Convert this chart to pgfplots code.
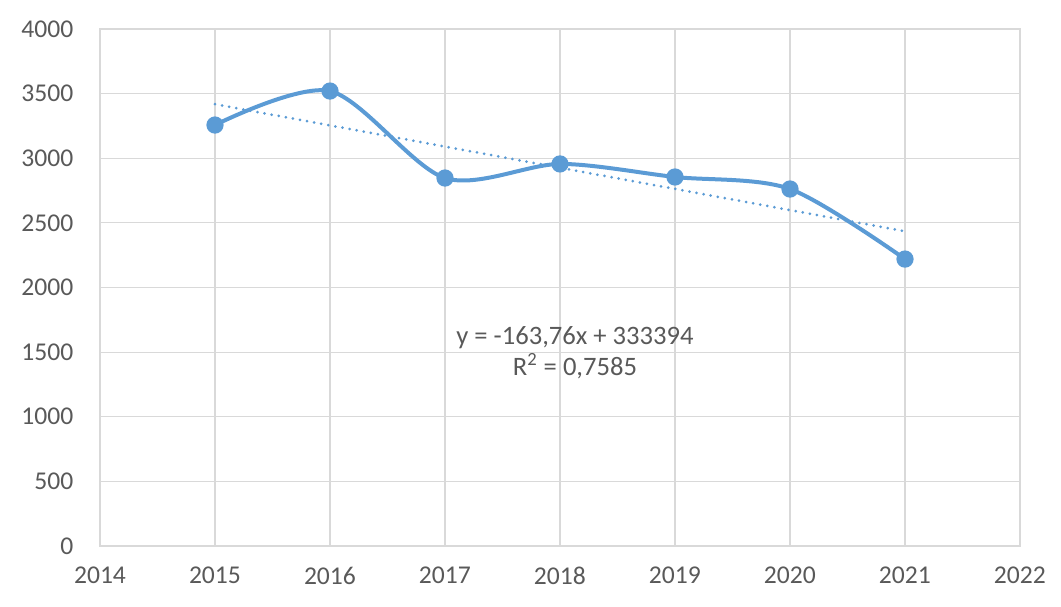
\documentclass[border=0pt]{standalone}
\usepackage{fontspec}
\setmainfont{Carlito}
\usepackage{pgfplots}
\pgfplotsset{compat=1.18}
\definecolor{exblue}{HTML}{5B9BD5}
\definecolor{gridc}{HTML}{D9D9D9}
\definecolor{txt}{HTML}{595959}
\begin{document}
\fontsize{12.5}{15}\selectfont
\begin{tikzpicture}
\begin{axis}[
  scale only axis, width=460pt, height=258.5pt,
  xmin=2014, xmax=2022, ymin=0, ymax=4000,
  xtick={2014,...,2022}, ytick={0,500,...,4000},
  grid=major, major grid style={gridc, line width=0.6pt},
  axis line style={gridc, line width=0.6pt},
  tick style={draw=none},
  /pgf/number format/assume math mode=true,
  /pgf/number format/1000 sep={},
  ticklabel style={text=txt, font=\fontsize{12.8}{15}\selectfont},
  yticklabel style={xshift=-9pt},
  xticklabel style={yshift=-6pt},
]
\addplot[exblue, line width=2pt, smooth, tension=0.5, mark=*, mark size=3.3pt, mark options={fill=exblue, draw=exblue}]
  coordinates {(2015,3257) (2016,3520) (2017,2847) (2018,2956) (2019,2855) (2020,2762) (2021,2220)};
\addplot[exblue, line width=1.5pt, dash pattern=on 0pt off 3.6pt, line cap=round]
  coordinates {(2015,3418) (2021,2435)};
\node[text=txt, font=\fontsize{13.3}{15.5}\selectfont, align=center] at (axis cs:2018.13,1492) {y = -163,76x + 333394\\R\textsuperscript{2} = 0,7585};
\end{axis}
\path (-50pt,-30pt) rectangle (480.5pt,273pt);
\end{tikzpicture}
\end{document}
